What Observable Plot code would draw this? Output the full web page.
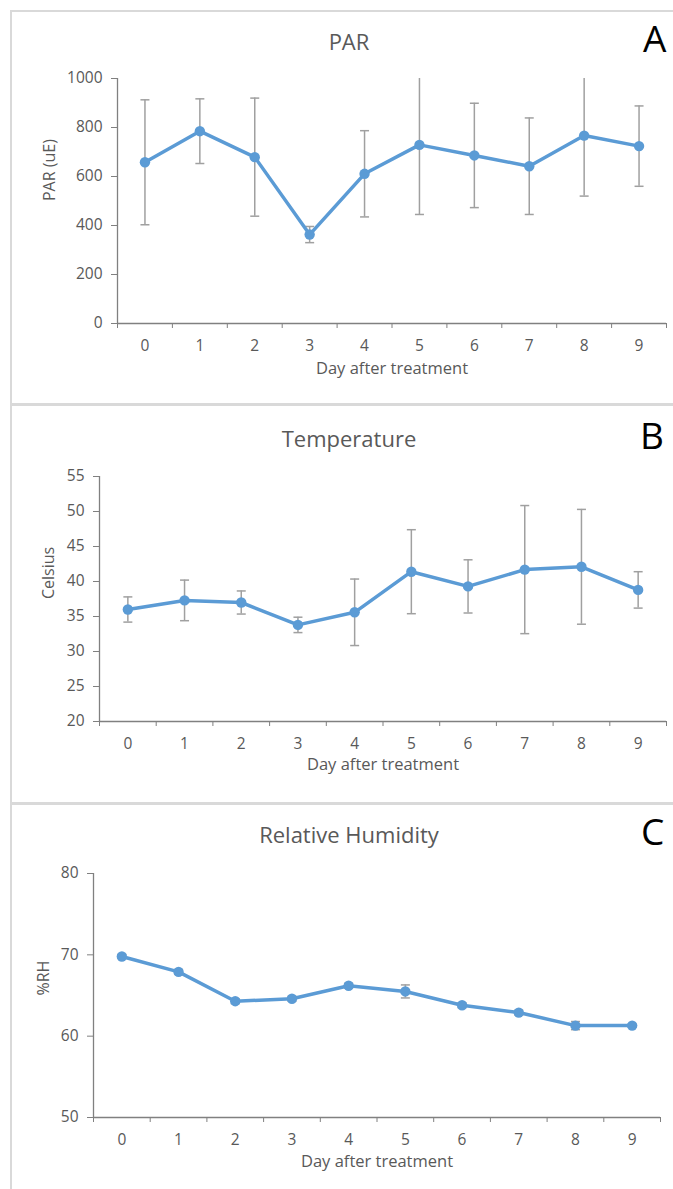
<!DOCTYPE html>
<html><head><meta charset="utf-8">
<script src="https://cdn.jsdelivr.net/npm/d3@7"></script>
<script src="https://cdn.jsdelivr.net/npm/@observablehq/plot@0.6"></script>
<style>
body{margin:0;background:#fff;}
#page{position:relative;width:673px;height:1189px;overflow:hidden;font-family:"Open Sans",sans-serif;background:#fff;}
.title{position:absolute;left:0;width:698px;text-align:center;font-size:22px;color:#595959;line-height:normal;white-space:nowrap;}
.letter{position:absolute;font-size:37px;color:#000;line-height:normal;}
.hline{position:absolute;left:10px;right:0;background:#d9d9d9;}
.vline{position:absolute;top:10px;bottom:0;left:10px;width:2px;background:#d9d9d9;}
</style></head>
<body><div id="page"></div>
<script>
const days = [0,1,2,3,4,5,6,7,8,9];
const parMean = [658,785,679,363,611,729,686,642,767,724];
const parSD   = [255,132,241,33,176,284,213,197,247,164];
const tempMean = [36.0,37.3,37.0,33.8,35.6,41.4,39.3,41.7,42.1,38.8];
const tempSD   = [1.8,2.9,1.65,1.1,4.75,6.0,3.8,9.15,8.2,2.6];
const rhMean = [69.8,67.9,64.3,64.6,66.2,65.5,63.8,62.9,61.3,61.3];
const rhSD   = [0.25,0.3,0.3,0.3,0.3,0.8,0.3,0.3,0.5,0.2];
const parTicks = [0,200,400,600,800,1000];
const tempTicks = [20,25,30,35,40,45,50,55];
const rhTicks = [50,60,70,80];
const xTitle = "Day after treatment";

const page = document.getElementById("page");
const cap = {draw(ctx, size){ const r = Math.sqrt(size/Math.PI); ctx.moveTo(-r,0); ctx.lineTo(r,0); }};

function panel(o){
  const data = days.map((d,i)=>({day:d, mean:o.mean[i], lo:o.mean[i]-o.sd[i], hi:o.mean[i]+o.sd[i]}));
  const bounds = days.map(d=>d-0.5).concat([days[days.length-1]+0.5]);
  const axisColor = "#808080", textColor = "#595959", errColor = "#a0a0a0";
  const chart = Plot.plot({
    width:673, height:o.height,
    marginTop:o.mt, marginBottom:o.mb, marginLeft:o.ml, marginRight:o.mr,
    style:{fontFamily:'"Open Sans", sans-serif', background:"transparent", overflow:"visible"},
    x:{domain:[bounds[0], bounds[bounds.length-1]], axis:null},
    y:{domain:[o.ticks[0], o.ticks[o.ticks.length-1]], axis:null},
    marks:[
      Plot.axisY({ticks:o.ticks, tickFormat:d=>String(d), tickSize:6, tickPadding:9, fontSize:15.5, stroke:axisColor, fill:textColor, label:null}),
      Plot.axisX({ticks:days, tickFormat:d=>String(d), tickSize:0, tickPadding:16, fontSize:15.5, fill:textColor, label:null}),
      Plot.axisX({ticks:bounds, tickSize:5, tickFormat:()=>"", stroke:axisColor, label:null}),
      Plot.ruleY([o.ticks[0]], {stroke:axisColor, strokeWidth:1.3}),
      Plot.ruleX([bounds[0]], {stroke:axisColor, strokeWidth:1.3}),
      Plot.ruleX(data, {x:"day", y1:"lo", y2:"hi", stroke:errColor, strokeWidth:1.5, clip:true}),
      Plot.dot(data, {x:"day", y:"hi", symbol:cap, r:4.5, stroke:errColor, strokeWidth:1.5, fill:"none", clip:true}),
      Plot.dot(data, {x:"day", y:"lo", symbol:cap, r:4.5, stroke:errColor, strokeWidth:1.5, fill:"none", clip:true}),
      Plot.line(data, {x:"day", y:"mean", stroke:"#5B9BD5", strokeWidth:3.5}),
      Plot.dot(data, {x:"day", y:"mean", r:5.2, fill:"#5B9BD5"}),
      Plot.text([o.ylabel], {text:d=>d, frameAnchor:"left", rotate:-90, dx:o.ylabelX - o.ml, fontSize:16, fill:textColor}),
      Plot.text([xTitle], {text:d=>d, frameAnchor:"bottom", dy:o.xdy, fontSize:16.5, fill:textColor})
    ]
  });
  chart.style.position = "absolute";
  chart.style.left = "0px";
  chart.style.top = o.top + "px";
  page.appendChild(chart);
  const t = document.createElement("div");
  t.className = "title"; t.textContent = o.title; t.style.top = o.titleTop + "px";
  page.appendChild(t);
  const l = document.createElement("div");
  l.className = "letter"; l.textContent = o.letter; l.style.top = o.letterTop + "px"; l.style.left = o.letterLeft + "px";
  page.appendChild(l);
}

// frame decorations
[["10px","2px"],["403px","3px"],["802px","3px"]].forEach(([t,h])=>{
  const d = document.createElement("div"); d.className="hline"; d.style.top=t; d.style.height=h; page.appendChild(d);
});
{ const v = document.createElement("div"); v.className="vline"; page.appendChild(v); }

panel({top:0, height:404, mt:78, mb:81, ml:117, mr:7, mean:parMean, sd:parSD, ticks:parTicks,
  ylabel:"PAR (uE)", ylabelX:49, xdy:50, title:"PAR", titleTop:26, letter:"A", letterTop:12, letterLeft:643});
panel({top:404, height:399, mt:72, mb:82, ml:99, mr:7, mean:tempMean, sd:tempSD, ticks:tempTicks,
  ylabel:"Celsius", ylabelX:48, xdy:48, title:"Temperature", titleTop:423, letter:"B", letterTop:409, letterLeft:640});
panel({top:803, height:386, mt:70, mb:72, ml:93, mr:13, mean:rhMean, sd:rhSD, ticks:rhTicks,
  ylabel:"%RH", ylabelX:43, xdy:49, title:"Relative Humidity", titleTop:819, letter:"C", letterTop:805, letterLeft:641});
</script>
</body></html>
